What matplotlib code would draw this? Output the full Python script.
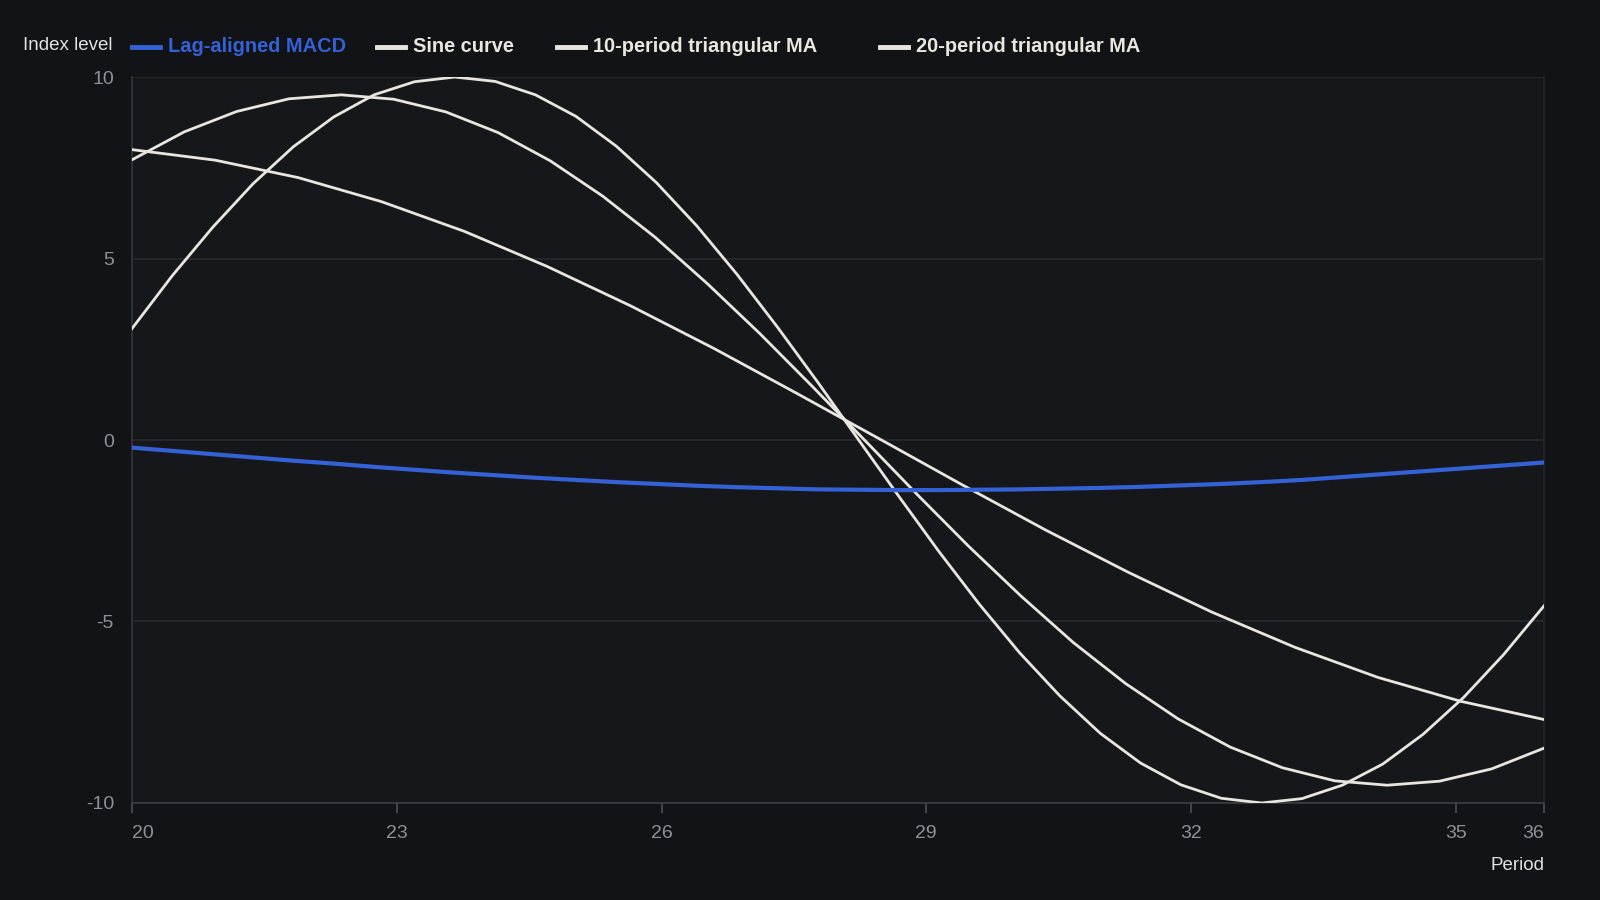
import numpy as np
import matplotlib
import matplotlib.pyplot as plt
from matplotlib.lines import Line2D

matplotlib.use('Agg')

plt.rcParams['font.family'] = ['Liberation Sans', 'DejaVu Sans']

# data
sine_x = np.linspace(20, 36, 36)
sine_y = [3.07, 4.53, 5.86, 7.06, 8.08, 8.90, 9.51, 9.87, 10.00, 9.88, 9.51, 8.92,
          8.10, 7.09, 5.90, 4.56, 3.11, 1.59, 0.02, -1.54, -3.07, -4.52, -5.86, -7.05,
          -8.08, -8.90, -9.50, -9.87, -10.00, -9.88, -9.51, -8.93, -8.11, -7.10, -5.91, -4.57]

macd_x = np.linspace(20, 36, 36)
macd_y = [-0.21, -0.30, -0.39, -0.48, -0.57, -0.65, -0.74, -0.82, -0.90, -0.97, -1.04, -1.10,
          -1.16, -1.21, -1.26, -1.30, -1.33, -1.36, -1.37, -1.38, -1.38, -1.37, -1.36, -1.34,
          -1.32, -1.29, -1.25, -1.21, -1.16, -1.10, -1.02, -0.94, -0.86, -0.78, -0.70, -0.62]

tma10_x = np.linspace(20, 36, 28)
tma10_y = [7.72, 8.49, 9.05, 9.40, 9.51, 9.39, 9.04, 8.47, 7.69, 6.72, 5.59, 4.31,
           2.94, 1.49, 0.01, -1.48, -2.93, -4.30, -5.58, -6.71, -7.68, -8.46, -9.03, -9.39,
           -9.51, -9.40, -9.06, -8.49]

tma20_x = np.linspace(20, 36, 18)
tma20_y = [8.00, 7.71, 7.23, 6.57, 5.75, 4.78, 3.70, 2.53, 1.29, 0.03, -1.24, -2.48,
           -3.65, -4.74, -5.71, -6.54, -7.20, -7.70]

x_ticks = [20, 23, 26, 29, 32, 35, 36]
y_ticks = [-10, -5, 0, 5, 10]

labels = ['Lag-aligned MACD', 'Sine curve', '10-period triangular MA', '20-period triangular MA']

BG = '#121316'
PLOT_BG = '#16171b'
BLUE = '#3461d6'
WHITE = '#e9e6df'
GRID = '#272a30'
TICK = '#8e9198'

fig = plt.figure(figsize=(16, 9), dpi=100, facecolor=BG)
ax = fig.add_axes([0.0825, 0.1078, 0.8825, 0.8066])
ax.set_facecolor(PLOT_BG)

ax.plot(sine_x, sine_y, color=WHITE, lw=2.0, zorder=3)
ax.plot(tma10_x, tma10_y, color=WHITE, lw=2.0, zorder=3)
ax.plot(tma20_x, tma20_y, color=WHITE, lw=2.0, zorder=3)
ax.plot(macd_x, macd_y, color=BLUE, lw=3.0, zorder=4, solid_capstyle='round')

ax.set_xlim(20, 36)
ax.set_ylim(-10, 10)
ax.set_xticks(x_ticks)
ax.set_yticks(y_ticks)
ax.set_yticklabels([str(v) for v in y_ticks])

ax.grid(axis='y', color=GRID, lw=1.2)
ax.set_axisbelow(True)

ax.spines['top'].set_visible(False)
ax.spines['left'].set_color('#34373e')
ax.spines['bottom'].set_color('#3a3d44')
ax.spines['right'].set_color('#23262b')
for s in ['left', 'bottom', 'right']:
    ax.spines[s].set_linewidth(1.2)

ax.tick_params(axis='x', colors='#4a4d54', length=7, width=1.2, pad=9,
               labelcolor=TICK, labelsize=14)
ax.tick_params(axis='y', length=0, pad=13, labelcolor=TICK, labelsize=14)

xl = ax.get_xticklabels()
xl[0].set_ha('left')
xl[-1].set_ha('right')

fig.text(0.0706, 1 - 45 / 900, 'Index level', ha='right', va='center', color='#e2e2e2', fontsize=13.5)
fig.text(0.965, 1 - 866 / 900, 'Period', ha='right', va='center', color='#e2e2e2', fontsize=13.5)

# legend row across the top
handle_x = [132, 377, 557, 880]
colors = [BLUE, WHITE, WHITE, WHITE]
ly = 1 - 47 / 900
for hx, lab, c in zip(handle_x, labels, colors):
    x0 = hx / 1600
    fig.add_artist(Line2D([x0, x0 + 28 / 1600], [ly, ly], color=c, lw=3.5,
                          transform=fig.transFigure))
    fig.text(x0 + 36 / 1600, ly, lab, ha='left', va='center', color=c,
             fontsize=14.4, fontweight='bold')

fig.savefig('out.png', dpi=100, facecolor=BG)
